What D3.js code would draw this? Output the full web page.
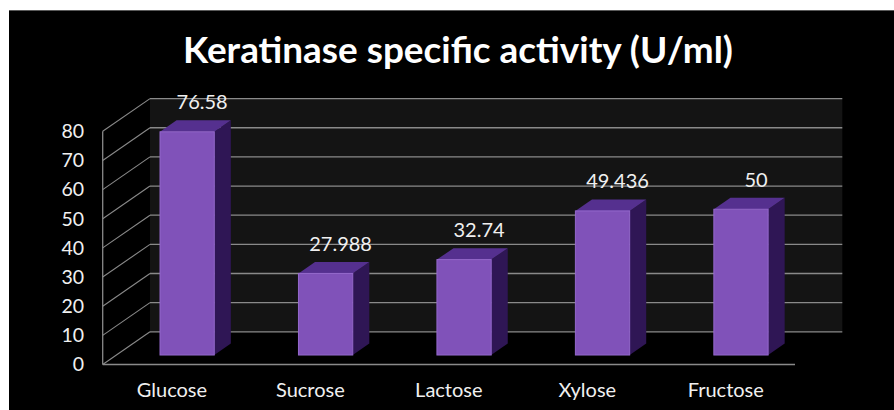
<!DOCTYPE html>
<html>
<head>
<meta charset="utf-8">
<script src="https://cdn.jsdelivr.net/npm/d3@7"></script>
<style>
  html, body { margin: 0; padding: 0; background: #ffffff; }
  svg { display: block; }
  text { font-family: Lato, "Open Sans", "Liberation Sans", sans-serif; }
</style>
</head>
<body>
<svg id="chart" width="894" height="410"></svg>
<script>
const chartTitle = "Keratinase specific activity (U/ml)";
const categories = ["Glucose", "Sucrose", "Lactose", "Xylose", "Fructose"];
const values = [76.58, 27.988, 32.74, 49.436, 50];
const valueLabels = ["76.58", "27.988", "32.74", "49.436", "50"];
const yTicks = [0, 10, 20, 30, 40, 50, 60, 70, 80];

const svg = d3.select("#chart");
const W = 894, H = 410;

// panel
svg.append("rect").attr("x", 9).attr("y", 10).attr("width", W - 9).attr("height", H - 10).attr("fill", "#000");
svg.append("line").attr("x1", 9).attr("x2", W).attr("y1", 10.5).attr("y2", 10.5)
  .attr("stroke", "#5a5a5a").attr("stroke-width", 1);

// title
svg.append("text")
  .attr("x", 458).attr("y", 63)
  .attr("text-anchor", "middle")
  .attr("fill", "#ffffff")
  .attr("font-weight", "bold")
  .attr("font-size", 36)
  .attr("textLength", 550)
  .attr("lengthAdjust", "spacingAndGlyphs")
  .text(chartTitle);

// 3D geometry (oblique projection)
const DX = 47.3, DY = -32.7;     // full depth of the floor
const F1 = 0.29, F2 = 0.64;      // bar depth range (fraction)

const x = d3.scaleBand().domain(categories).range([102.7, 795]);
const y = d3.scaleLinear().domain([0, 80]).range([364.5, 131.3]);

const x0 = x.range()[0], x1 = x.range()[1];
const gridColor = "#8a8a8a";

// back wall
svg.append("rect")
  .attr("x", x0 + DX).attr("y", y(80) + DY)
  .attr("width", x1 - x0).attr("height", y(0) - y(80))
  .attr("fill", "#141414");

// back wall gridlines
svg.append("g").selectAll("line").data(yTicks).join("line")
  .attr("x1", x0 + DX).attr("x2", x1 + DX)
  .attr("y1", d => y(d) + DY).attr("y2", d => y(d) + DY)
  .attr("stroke", gridColor).attr("stroke-width", 1.3);

// side wall diagonal gridlines
svg.append("g").selectAll("line").data(yTicks).join("line")
  .attr("x1", x0).attr("x2", x0 + DX)
  .attr("y1", d => y(d)).attr("y2", d => y(d) + DY)
  .attr("stroke", gridColor).attr("stroke-width", 1.1);

// left vertical axis line and floor front line
svg.append("line").attr("x1", x0).attr("x2", x0).attr("y1", y(0)).attr("y2", y(80))
  .attr("stroke", gridColor).attr("stroke-width", 1.3);
svg.append("line").attr("x1", x0).attr("x2", x1).attr("y1", y(0)).attr("y2", y(0))
  .attr("stroke", gridColor).attr("stroke-width", 1.3);

// bars
const barW = x.bandwidth() * 0.392;
const dxB = (F2 - F1) * DX, dyB = (F2 - F1) * DY;
const bars = svg.append("g").selectAll("g").data(categories.map((c, i) => ({ c, v: values[i], lab: valueLabels[i] }))).join("g");

bars.each(function (d) {
  const g = d3.select(this);
  const cx = x(d.c) + x.bandwidth() / 2 + 1.5;
  const L = cx - barW / 2 + F1 * DX;
  const R = L + barW;
  const T = y(d.v) + F1 * DY;
  const B = y(0) + F1 * DY;
  // side
  g.append("path")
    .attr("d", `M${R},${T} L${R + dxB},${T + dyB} L${R + dxB},${B + dyB} L${R},${B} Z`)
    .attr("fill", "#2f1655");
  // top
  g.append("path")
    .attr("d", `M${L},${T} L${L + dxB},${T + dyB} L${R + dxB},${T + dyB} L${R},${T} Z`)
    .attr("fill", "#55308f");
  // front
  g.append("rect").attr("x", L).attr("y", T).attr("width", barW).attr("height", B - T)
    .attr("fill", "#8052b9");
  g.append("rect").attr("x", L).attr("y", T).attr("width", barW).attr("height", B - T)
    .attr("fill", "none").attr("stroke", "#9468cc").attr("stroke-width", 1);
  // value label
  g.append("text")
    .attr("x", (L + R) / 2 + 15).attr("y", T + dyB - 11)
    .attr("text-anchor", "middle")
    .attr("fill", "#f0f0f0")
    .attr("font-size", 20)
    .text(d.lab);
});

// y tick labels
svg.append("g").selectAll("text").data(yTicks).join("text")
  .attr("x", 84).attr("y", d => y(d))
  .attr("dy", "0.35em")
  .attr("text-anchor", "end")
  .attr("fill", "#f0f0f0")
  .attr("font-size", 19.5)
  .text(d => d);

// category labels
svg.append("g").selectAll("text").data(categories).join("text")
  .attr("x", d => x(d) + x.bandwidth() / 2).attr("y", 397)
  .attr("text-anchor", "middle")
  .attr("fill", "#f0f0f0")
  .attr("font-size", 20)
  .text(d => d);
</script>
</body>
</html>
